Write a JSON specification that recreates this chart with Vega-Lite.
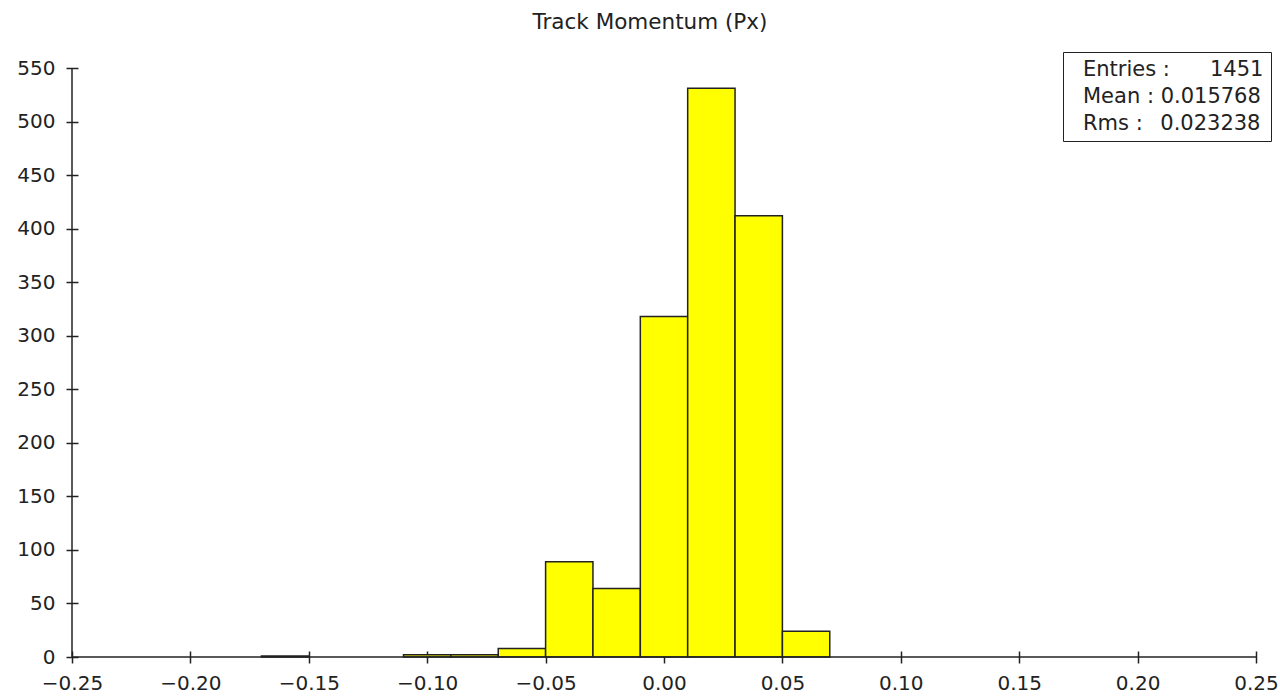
{
  "$schema": "https://vega.github.io/schema/vega-lite/v6.json",
  "autosize": "none",
  "width": 1184,
  "height": 589,
  "padding": {"left": 72, "top": 68, "right": 24, "bottom": 43},
  "background": "white",
  "title": {
    "text": "Track Momentum (Px)",
    "font": "DejaVu Sans",
    "fontSize": 21.5,
    "fontWeight": "normal",
    "color": "#222",
    "anchor": "middle",
    "dx": -14,
    "offset": 18
  },
  "config": {
    "view": {"stroke": null},
    "axis": {
      "domain": false,
      "grid": false,
      "offset": -6,
      "tickSize": 12,
      "tickWidth": 1.5,
      "tickColor": "#222",
      "labelFont": "DejaVu Sans",
      "labelFontSize": 20,
      "labelColor": "#222",
      "title": null
    },
    "legend": {
      "orient": "none",
      "legendX": 991,
      "legendY": -16,
      "strokeColor": "#222",
      "fillColor": "white",
      "padding": 7,
      "labelFont": "DejaVu Sans",
      "labelFontSize": 21,
      "labelColor": "#222",
      "labelOffset": -8,
      "labelLimit": 400,
      "rowPadding": 5,
      "symbolSize": 0,
      "symbolOpacity": 0,
      "symbolStrokeWidth": 0
    }
  },
  "layer": [
    {
      "data": {
        "values": [
          {"start": -0.17, "end": -0.15, "count": 1},
          {"start": -0.11, "end": -0.09, "count": 2},
          {"start": -0.09, "end": -0.07, "count": 2},
          {"start": -0.07, "end": -0.05, "count": 8},
          {"start": -0.05, "end": -0.03, "count": 89},
          {"start": -0.03, "end": -0.01, "count": 64},
          {"start": -0.01, "end": 0.01, "count": 318},
          {"start": 0.01, "end": 0.03, "count": 531},
          {"start": 0.03, "end": 0.05, "count": 412},
          {"start": 0.05, "end": 0.07, "count": 24}
        ]
      },
      "mark": {"type": "rect", "fill": "#ffff00", "stroke": "#222", "strokeWidth": 1.5},
      "encoding": {
        "x": {
          "field": "start",
          "type": "quantitative",
          "scale": {"domain": [-0.25, 0.25], "nice": false, "zero": false},
          "axis": {
            "values": [-0.25, -0.2, -0.15, -0.1, -0.05, 0, 0.05, 0.1, 0.15, 0.2, 0.25],
            "format": ".2f",
            "labelPadding": 10,
            "labelOverlap": false,
            "labelFlush": false
          }
        },
        "x2": {"field": "end"},
        "y": {
          "field": "count",
          "type": "quantitative",
          "scale": {"domain": [0, 550], "nice": false},
          "axis": {
            "values": [0, 50, 100, 150, 200, 250, 300, 350, 400, 450, 500, 550],
            "labelPadding": 11,
            "labelOverlap": false
          }
        },
        "y2": {"datum": 0}
      }
    },
    {
      "data": {"values": [{}]},
      "mark": {"type": "rule", "stroke": "#222", "strokeWidth": 1.5},
      "encoding": {"y": {"datum": 0}}
    },
    {
      "data": {"values": [{}]},
      "mark": {"type": "rule", "stroke": "#222", "strokeWidth": 1.5},
      "encoding": {"x": {"datum": -0.25}, "y": {"datum": 0}, "y2": {"datum": 550}}
    },
    {
      "data": {
        "values": [
          {"stat": "Entries", "value": "1451", "label": "Entries :\u00a0\u00a0\u00a0\u00a0\u00a0\u00a01451\u00a0\u2009"},
          {"stat": "Mean", "value": "0.015768", "label": "Mean : 0.015768"},
          {"stat": "Rms", "value": "0.023238", "label": "Rms :\u00a0\u00a0\u20090.023238"}
        ]
      },
      "mark": {"type": "point", "opacity": 0},
      "encoding": {
        "color": {
          "field": "label",
          "type": "nominal",
          "scale": {
            "domain": ["Entries :\u00a0\u00a0\u00a0\u00a0\u00a0\u00a01451\u00a0\u2009", "Mean : 0.015768", "Rms :\u00a0\u00a0\u20090.023238"],
            "range": ["white", "white", "white"]
          },
          "legend": {"title": null}
        }
      }
    }
  ]
}
